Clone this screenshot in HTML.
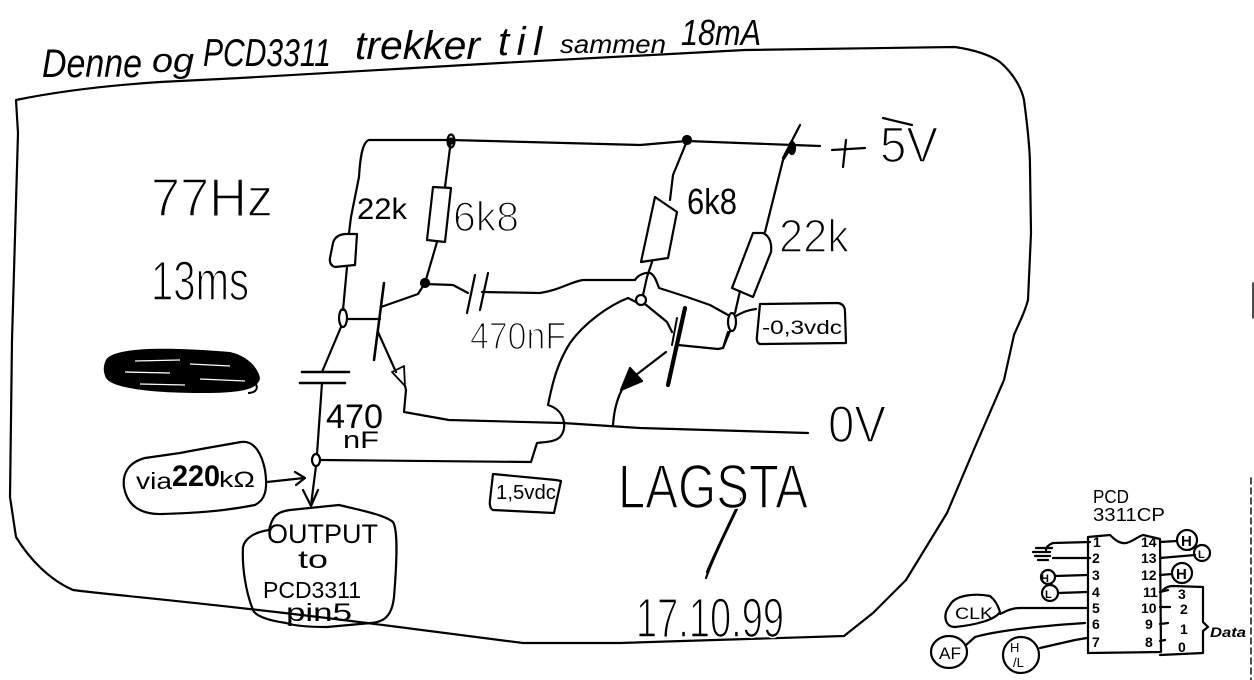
<!DOCTYPE html>
<html><head><meta charset="utf-8"><style>
html,body{margin:0;padding:0;background:#fff;}
svg{display:block;}
text{font-family:"Liberation Sans",sans-serif;fill:#000;}
.big{stroke:#fff;stroke-width:1.6;}
</style></head><body>
<svg width="1254" height="680" viewBox="0 0 1254 680" xmlns="http://www.w3.org/2000/svg">
<rect width="1254" height="680" fill="#fff"/>
<g fill="none" stroke="#000" stroke-width="2.2" stroke-linecap="round" stroke-linejoin="round">
<!-- outer frame -->
<path d="M16,100 C50,93 100,86 160,82 L240,78 L500,63 L745,50 L955,47 C975,50 990,55 1000,62 C1015,75 1022,90 1024,100 C1028,130 1030,150 1030,167 L1031,233 L1028,300 C1024,315 1018,325 1014,335 L1004,380 L975,447 L947,513 L906,580 L873,613 L844,636 L620,643 L523,643 L367,623 C200,602 120,596 73,590 C50,580 30,560 16,537 L10,497 L12,340 L18,133 Z"/>
<!-- top rail -->
<path d="M369,140 L451,140 L640,145 L687,141 L793,145 L820,146"/>
<!-- left branch wire -->
<path d="M369,140 C362,142 360,160 359,177 L351,217 L349,233"/>
<!-- left 22k -->
<path d="M333,243 Q335,235 345,234 L357,234 L355,265 L335,267 Q329,265 330,258 Z"/>
<path d="M347,267 L343,310"/>
<ellipse cx="343" cy="318" rx="4" ry="9"/>
<path d="M341,327 L322,372"/>
<!-- left vertical cap -->
<path d="M302,372 L349,372" stroke-width="2.6"/>
<path d="M300,383 L345,383" stroke-width="2.6"/>
<path d="M322,383 L317,454"/>
<ellipse cx="316" cy="460" rx="4" ry="6"/>
<!-- left transistor -->
<path d="M347,319 L380,319"/>
<path d="M384,283 L374,360" stroke-width="2.6"/>
<path d="M381,307 L418,294 L425,283"/>
<path d="M378,332 L396,372"/>
<path d="M392,372 L404,366 L405,386 Z" stroke-width="1.8"/>
<path d="M405,386 L406,390 L404,412 L449,420 L563,423 L640,428 L808,433"/>
<!-- left 6k8 -->
<path d="M451,140 L445,187"/>
<path d="M433,187 L451,188 L445,242 L427,240 Z"/>
<path d="M437,242 L425,283"/>
<circle cx="425" cy="283" r="4" fill="#000"/>
<!-- top cap 470nF -->
<path d="M425,284 L453,285 L468,293"/>
<path d="M475,275 L467,313"/>
<path d="M488,273 L480,310"/>
<path d="M482,292 L540,293 C560,290 570,282 583,280 L635,280 C638,275 645,272 650,273 C655,275 657,283 659,288 L687,297 L710,305 L728,315"/>
<!-- right 6k8 -->
<path d="M687,141 L673,175 L670,200"/>
<path d="M655,197 L677,212 L668,258 L641,262 Z"/>
<path d="M652,262 L647,277 L643,295"/>
<circle cx="641" cy="300" r="5"/>
<!-- wire from right collector node to hop -->
<path d="M636,302 L628,298 C610,305 585,322 570,343 C558,362 553,380 548,405 C565,410 568,428 560,437 C555,442 545,442 537,443 L531,462 L321,460"/>
<!-- right transistor -->
<path d="M645,304 L667,322 L672,332"/>
<path d="M685,308 L668,385" stroke-width="4.2"/>
<path d="M677,318 L672,345" stroke-width="2"/>
<path d="M678,345 L718,349 L723,348 L728,332"/>
<path d="M666,352 L636,375"/>
<path d="M621,390 L630,368 L642,381 Z" fill="#000"/>
<path d="M624,386 C618,396 614,410 613,425"/>
<!-- right 22k -->
<path d="M793,145 L783,160 L765,232"/>
<path d="M753,233 L763,233 C770,236 772,244 771,252 L753,297 L732,288 Z"/>
<path d="M740,291 L735,313"/>
<ellipse cx="732" cy="322" rx="4" ry="9"/>
<path d="M730,331 L723,348"/>
<path d="M736,316 C743,312 748,310 756,309"/>
<!-- +5V junction marks -->
<ellipse cx="451" cy="141" rx="3.5" ry="6.5"/>
<circle cx="451" cy="141" r="2.5" fill="#000"/>
<circle cx="687" cy="140" r="4" fill="#000"/>
<path d="M800,125 L783,158"/>
<ellipse cx="792" cy="148" rx="3" ry="6" fill="#000"/>
<!-- -0,3vdc box -->
<path d="M760,304 L838,303 Q845,304 845,312 L846,343 L760,344 Q756,343 757,336 Z"/>
<!-- 1,5vdc box -->
<path d="M493,474 L556,480 L561,481 L554,513 L493,510 Q489,508 490,500 Z"/>
<!-- +5V plus and overline -->
<path d="M832,150 L865,148"/>
<path d="M846,140 L843,167"/>
<path d="M883,118 L912,125"/>
<!-- output arrow -->
<path d="M316,466 L311,505"/>
<path d="M303,490 L311,506 L318,490"/>
<!-- via bubble -->
<path d="M124,487 C122,472 130,462 145,458 L180,453 C205,448 225,445 241,442 C255,440 262,455 265,470 C268,490 265,500 255,505 C220,512 190,513 163,514 C140,515 127,505 124,487 Z"/>
<path d="M267,482 L304,478"/>
<path d="M295,472 L305,478 L296,485"/>
<!-- output bubble -->
<path d="M269,530 C272,518 275,512 290,510 L339,505 C360,510 385,515 393,522 C398,530 397,560 394,597 C392,615 385,622 371,623 L327,627 C310,627 295,626 286,623 C265,620 255,615 253,610 C245,590 242,565 243,547 C245,538 255,532 269,530 Z"/>
<!-- LAGSTA tail -->
<path d="M742,498 C730,525 716,550 706,578"/>
<path d="M738,505 C726,530 714,555 707,572"/>
<!-- dashed right edge -->
<path d="M1251,478 L1251,680" stroke-width="1.4" stroke-dasharray="6,4"/>
<path d="M1253,283 L1253,318" stroke-width="1.4"/>
<!-- IC -->
<path d="M1088,537 L1110,535 C1115,540 1120,544 1126,543 C1132,542 1137,537 1143,535 L1160,539 L1161,652 L1088,653 Z"/>
<!-- left pins -->
<path d="M1090,542 L1053,543 C1048,545 1046,547 1046,550"/>
<path d="M1036,548 L1052,548 M1033,552 L1050,552 M1035,556 L1050,556 M1038,560 L1048,560"/>
<path d="M1090,558 L1053,558"/>
<path d="M1087,575 L1055,576"/>
<circle cx="1048" cy="577" r="7"/>
<path d="M1087,592 L1058,593"/>
<circle cx="1050" cy="593" r="8"/>
<path d="M1087,608 L1020,608 C1010,608 1005,612 1000,614"/>
<path d="M950,605 C955,595 975,593 990,596 C995,600 998,605 1000,612 C995,620 975,625 955,627 C945,627 942,615 950,605 Z"/>
<path d="M1085,623 C1040,626 1000,630 975,637 L966,645"/>
<ellipse cx="949" cy="652" rx="18" ry="16"/>
<path d="M1087,638 L1075,640 L1040,648"/>
<ellipse cx="1021" cy="655" rx="18" ry="18"/>
<!-- right pins -->
<path d="M1160,542 L1177,541"/>
<circle cx="1187" cy="540" r="10"/>
<path d="M1160,558 L1195,555"/>
<circle cx="1202" cy="553" r="8"/>
<path d="M1160,575 L1172,574"/>
<circle cx="1182" cy="573" r="10"/>
<path d="M1160,592 L1168,590 M1160,607 L1170,607 M1160,624 L1168,623 M1160,641 L1165,640"/>
<path d="M1163,590 C1166,587 1170,586 1173,586 L1203,587 L1203,622 L1208,627 L1203,631 L1203,653 L1160,655"/>
</g>
<!-- scribble -->
<g>
<path d="M106,360 C112,348 160,346 230,352 C248,356 258,368 260,378 C258,390 240,393 200,393 C150,393 112,388 106,378 C103,372 103,366 106,360 Z" fill="#000"/>
<path d="M135,361 L180,360 M190,364 L230,366 M125,372 L170,373 M200,379 L245,381 M140,384 L185,385" stroke="#fff" stroke-width="1.3"/>
<path d="M255,383 C259,388 256,393 248,393" stroke="#000" stroke-width="2" fill="none"/>
</g>
<!-- title -->
<text x="42" y="77" font-size="40" font-style="italic" textLength="100" lengthAdjust="spacingAndGlyphs">Denne</text>
<text x="152" y="72" font-size="34" font-style="italic" textLength="42" lengthAdjust="spacingAndGlyphs">og</text>
<text x="203" y="66" font-size="39" font-style="italic" textLength="128" lengthAdjust="spacingAndGlyphs">PCD3311</text>
<text x="355" y="59" font-size="40" font-style="italic" textLength="125" lengthAdjust="spacingAndGlyphs">trekker</text>
<text x="498" y="55" font-size="40" font-style="italic" textLength="44" lengthAdjust="spacing">til</text>
<text x="560" y="53" font-size="26" font-style="italic" textLength="106" lengthAdjust="spacingAndGlyphs">sammen</text>
<text x="681" y="45" font-size="36" font-style="italic" textLength="80" lengthAdjust="spacingAndGlyphs">18mA</text>
<!-- left labels -->
<text class="big" x="151" y="216" font-size="54" textLength="122" lengthAdjust="spacingAndGlyphs">77Hz</text>
<text class="big" x="151" y="300" font-size="56" textLength="98" lengthAdjust="spacingAndGlyphs">13ms</text>
<text x="357" y="219" font-size="30" textLength="50" lengthAdjust="spacingAndGlyphs">22k</text>
<text class="big" x="453" y="231" font-size="42" textLength="66" lengthAdjust="spacingAndGlyphs">6k8</text>
<text x="687" y="214" font-size="36" textLength="50" lengthAdjust="spacingAndGlyphs">6k8</text>
<text class="big" x="779" y="252" font-size="46" textLength="70" lengthAdjust="spacingAndGlyphs">22k</text>
<text class="big" x="880" y="162" font-size="50" textLength="58" lengthAdjust="spacingAndGlyphs">5V</text>
<text x="762" y="334" font-size="19" textLength="80" lengthAdjust="spacingAndGlyphs">-0,3vdc</text>
<text class="big" x="470" y="349" font-size="38" textLength="96" lengthAdjust="spacingAndGlyphs">470nF</text>
<text x="326" y="428" font-size="34" textLength="57" lengthAdjust="spacingAndGlyphs">470</text>
<text x="343" y="448" font-size="24" textLength="36" lengthAdjust="spacingAndGlyphs">nF</text>
<text class="big" x="828" y="442" font-size="52" textLength="58" lengthAdjust="spacingAndGlyphs">0V</text>
<text x="496" y="499" font-size="20" textLength="60" lengthAdjust="spacingAndGlyphs">1,5vdc</text>
<text class="big" x="618" y="508" font-size="62" textLength="190" lengthAdjust="spacingAndGlyphs">LAGSTA</text>
<text class="big" x="636" y="637" font-size="56" textLength="148" lengthAdjust="spacingAndGlyphs">17.10.99</text>
<!-- via bubble text -->
<text x="136" y="489" font-size="23" textLength="36" lengthAdjust="spacingAndGlyphs">via</text>
<text x="172" y="486" font-size="30" font-weight="bold" textLength="48" lengthAdjust="spacingAndGlyphs">220</text>
<text x="219" y="487" font-size="22" textLength="36" lengthAdjust="spacingAndGlyphs">kΩ</text>
<!-- output text -->
<text x="267" y="543" font-size="27" textLength="111" lengthAdjust="spacingAndGlyphs">OUTPUT</text>
<text x="298" y="568" font-size="25" textLength="30" lengthAdjust="spacingAndGlyphs">to</text>
<text x="263" y="598" font-size="23" textLength="98" lengthAdjust="spacingAndGlyphs">PCD3311</text>
<text x="286" y="621" font-size="25" textLength="66" lengthAdjust="spacingAndGlyphs">pin5</text>
<!-- IC texts -->
<text x="1093" y="503" font-size="18" textLength="36" lengthAdjust="spacingAndGlyphs">PCD</text>
<text x="1093" y="521" font-size="18" textLength="72" lengthAdjust="spacingAndGlyphs">3311CP</text>
<g font-size="14" font-weight="bold">
<text x="1093" y="547">1</text><text x="1092" y="563">2</text><text x="1092" y="580">3</text><text x="1092" y="597">4</text><text x="1092" y="613">5</text><text x="1092" y="629">6</text><text x="1092" y="647">7</text>
<text x="1141" y="547">14</text><text x="1141" y="563">13</text><text x="1141" y="580">12</text><text x="1143" y="597">11</text><text x="1141" y="613">10</text><text x="1145" y="629">9</text><text x="1145" y="647">8</text>
<text x="1178" y="599">3</text><text x="1180" y="614">2</text><text x="1180" y="634">1</text><text x="1178" y="652">0</text>
</g>
<text x="1210" y="637" font-size="14" font-weight="bold" font-style="italic" textLength="36" lengthAdjust="spacingAndGlyphs">Data</text>
<text x="1041" y="582" font-size="11" font-weight="bold">H</text>
<text x="1045" y="598" font-size="11" font-weight="bold">L</text>
<text x="1181" y="546" font-size="15" font-weight="bold">H</text>
<text x="1198" y="558" font-size="11" font-weight="bold">L</text>
<text x="1176" y="579" font-size="15" font-weight="bold">H</text>
<text x="955" y="619" font-size="17" textLength="38" lengthAdjust="spacingAndGlyphs">CLK</text>
<text x="939" y="659" font-size="17" textLength="22" lengthAdjust="spacingAndGlyphs">AF</text>
<text x="1010" y="652" font-size="13">H</text>
<text x="1013" y="667" font-size="13">/L</text>
</svg>
</body></html>
